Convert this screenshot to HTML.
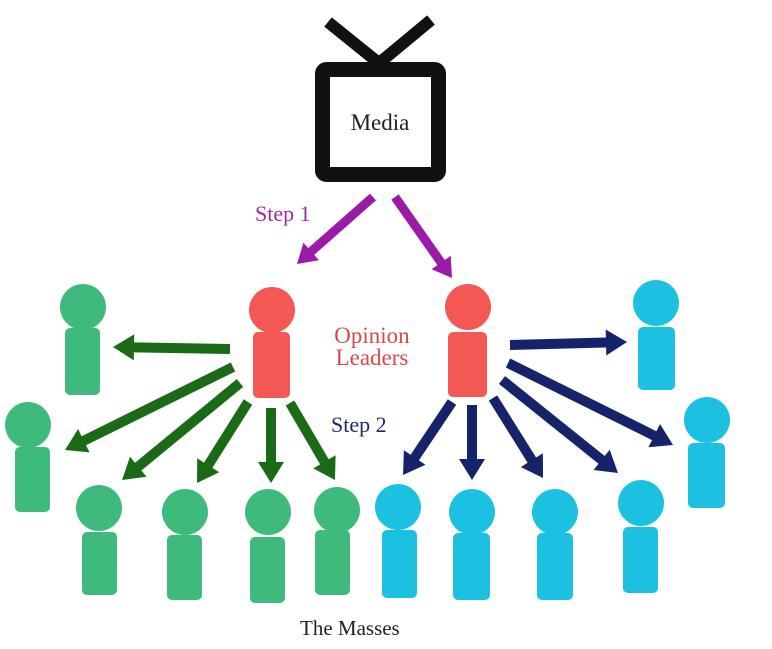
<!DOCTYPE html>
<html><head><style>
html,body{margin:0;padding:0;background:#fff;}
svg{display:block}
text{font-family:"Liberation Serif",serif;}
</style></head><body>
<svg id="s" width="772" height="649" viewBox="0 0 772 649" xmlns="http://www.w3.org/2000/svg">
<rect width="772" height="649" fill="#fff"/>
<!-- TV -->
<line x1="328" y1="22" x2="380" y2="64" stroke="#111" stroke-width="12"/>
<line x1="431" y1="20" x2="378" y2="64" stroke="#111" stroke-width="12"/>
<rect x="322.5" y="69.5" width="116" height="105" rx="4" fill="#fff" stroke="#111" stroke-width="15"/>
<text x="380" y="130" font-size="23" text-anchor="middle" fill="#222">Media</text>
<text x="255" y="221" font-size="22" fill="#9c2aa3">Step 1</text>
<text x="372" y="343" font-size="23" text-anchor="middle" fill="#d9474a">Opinion</text>
<text x="372" y="365" font-size="23" text-anchor="middle" fill="#d9474a">Leaders</text>
<text x="331" y="432" font-size="22" fill="#1e2a66">Step 2</text>
<text x="300" y="635" font-size="21" fill="#222">The Masses</text>
<g id="people"></g>
<g id="arrows"></g>
</svg>
<script>
var NS="http://www.w3.org/2000/svg";
function el(t,a,p){var e=document.createElementNS(NS,t);for(var k in a)e.setAttribute(k,a[k]);document.getElementById(p).appendChild(e);}
function person(hx,hy,bx1,bx2,by1,by2,c){
 el("rect",{x:bx1,y:by1,width:bx2-bx1,height:by2-by1,rx:5,fill:c},"people");
 el("circle",{cx:hx,cy:hy,r:23,fill:c},"people");
}
var G="#3dba7c",R="#f45855",C="#1cc1e2";
person(83,307,65,100,328,395,G);
person(28,425,15,50,447,512,G);
person(99,508,82,117,532,595,G);
person(185,512,167,202,535,600,G);
person(268,512,250,285,537,603,G);
person(337,510,315,350,530,595,G);
person(272,310,253,290,332,398,R);
person(468,307,448,487,332,397,R);
person(656,303,638,675,327,390,C);
person(707,420,688,725,443,508,C);
person(398,507,382,417,530,598,C);
person(472,512,453,490,533,600,C);
person(555,512,537,573,533,600,C);
person(641,503,623,658,527,593,C);
function arrow(x1,y1,x2,y2,c,w){
 var dx=x2-x1,dy=y2-y1,L=Math.sqrt(dx*dx+dy*dy),ux=dx/L,uy=dy/L,px=-uy,py=ux;
 var hl=w*2.1,hw=w*1.3;
 var bx=x2-ux*hl,by=y2-uy*hl;
 var p=[[x1+px*w/2,y1+py*w/2],[bx+px*w/2,by+py*w/2],[bx+px*hw,by+py*hw],[x2,y2],[bx-px*hw,by-py*hw],[bx-px*w/2,by-py*w/2],[x1-px*w/2,y1-py*w/2]];
 el("polygon",{points:p.map(function(q){return q[0].toFixed(1)+","+q[1].toFixed(1)}).join(" "),fill:c},"arrows");
}
var P="#9b1aa8",DG="#1b6a16",NV="#15236b";
arrow(373,197,297,264,P,9);
arrow(395,197,452,278,P,9);
arrow(230,349,113,347,DG,10);
arrow(233,367,65,450,DG,10);
arrow(240,383,122,480,DG,10);
arrow(248,402,197,483,DG,10);
arrow(271,408,271,483,DG,10);
arrow(290,403,335,480,DG,10);
arrow(510,345,627,342,NV,10);
arrow(508,363,673,445,NV,10);
arrow(502,380,618,473,NV,10);
arrow(493,398,543,478,NV,10);
arrow(472,405,472,480,NV,10);
arrow(452,402,403,475,NV,10);
</script>
</body></html>
